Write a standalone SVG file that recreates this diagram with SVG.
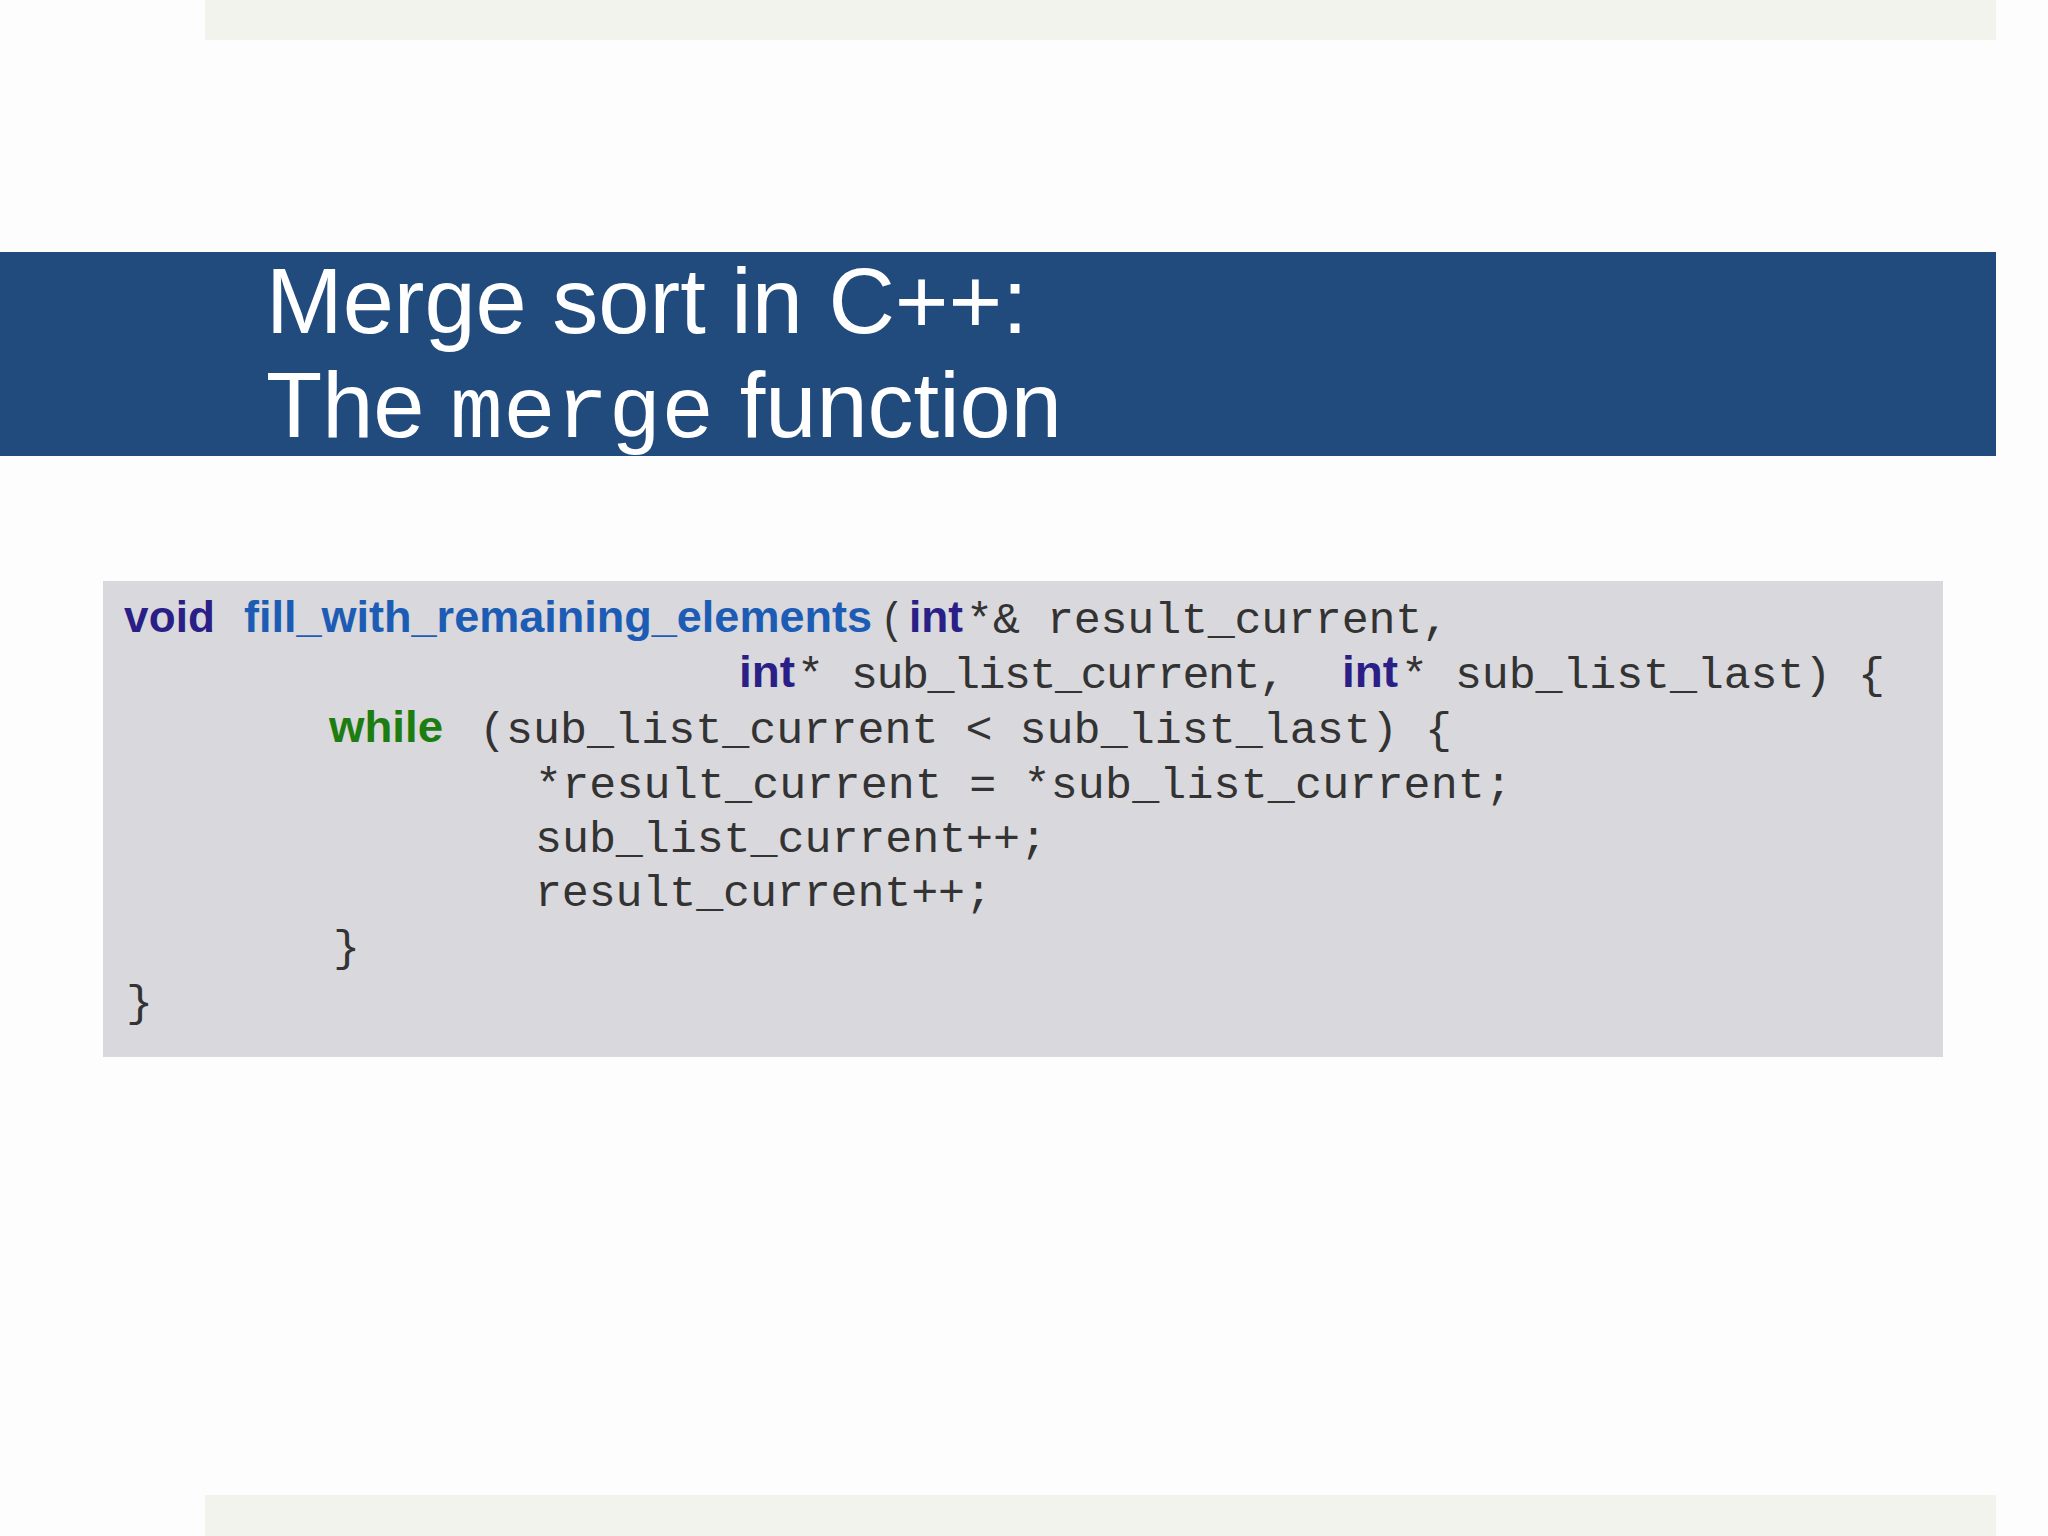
<svg xmlns="http://www.w3.org/2000/svg" width="2048" height="1536" viewBox="0 0 2048 1536">
<style>
.m{font-family:"Liberation Mono","DejaVu Sans Mono",monospace;font-size:45px;fill:#333}
.k{font-family:"Liberation Sans",Arial,sans-serif;font-size:44px;font-weight:bold}
.kw{fill:#2a1f86}.fn{fill:#1d5cb4}.wh{fill:#1d7d10}
.t{font-family:"Liberation Sans",Arial,sans-serif;font-size:92px;fill:#fff}
</style>
<rect width="2048" height="1536" fill="#fdfdfd"/>
<rect x="205" y="0" width="1791" height="40" fill="#f3f3ee"/>
<rect x="205" y="1495" width="1791" height="41" fill="#f3f3ee"/>
<g id="title">
<rect x="0" y="252" width="1996" height="204" fill="#214a7d"/>
<text class="t" x="266" y="333">Merge sort in C++:</text>
<text class="t" x="266" y="437">The <tspan font-family="Liberation Mono,monospace" font-size="88">merge</tspan> function</text>
</g>
<g id="code">
<rect x="103" y="581" width="1840" height="476" fill="#d9d8dc"/>
<text class="k kw" x="124" y="632" textLength="91">void</text>
<text class="k fn" x="244" y="632" textLength="628" lengthAdjust="spacingAndGlyphs">fill_with_remaining_elements</text>
<text class="m" x="880" y="633" textLength="24" lengthAdjust="spacingAndGlyphs">(</text>
<text class="k kw" x="909" y="632" textLength="54" lengthAdjust="spacingAndGlyphs">int</text>
<text class="m" x="966" y="633">*&amp;</text>
<text class="m" x="1047" y="633" textLength="402">result_current,</text>
<text class="k kw" x="739" y="687" textLength="56" lengthAdjust="spacingAndGlyphs">int</text>
<text class="m" x="797" y="688">*</text>
<text class="m" x="851" y="688" textLength="435">sub_list_current,</text>
<text class="k kw" x="1342" y="687" textLength="56" lengthAdjust="spacingAndGlyphs">int</text>
<text class="m" x="1401" y="688">*</text>
<text class="m" x="1455" y="688" textLength="430">sub_list_last) {</text>
<text class="k wh" x="329" y="742" textLength="114" lengthAdjust="spacingAndGlyphs">while</text>
<text class="m" x="479" y="743" textLength="973">(sub_list_current &lt; sub_list_last) {</text>
<text class="m" x="535" y="798" textLength="977">*result_current = *sub_list_current;</text>
<text class="m" x="535" y="852" textLength="512">sub_list_current++;</text>
<text class="m" x="535" y="906" textLength="457">result_current++;</text>
<text class="m" x="333" y="961">}</text>
<text class="m" x="126" y="1016">}</text>
</g>
</svg>
